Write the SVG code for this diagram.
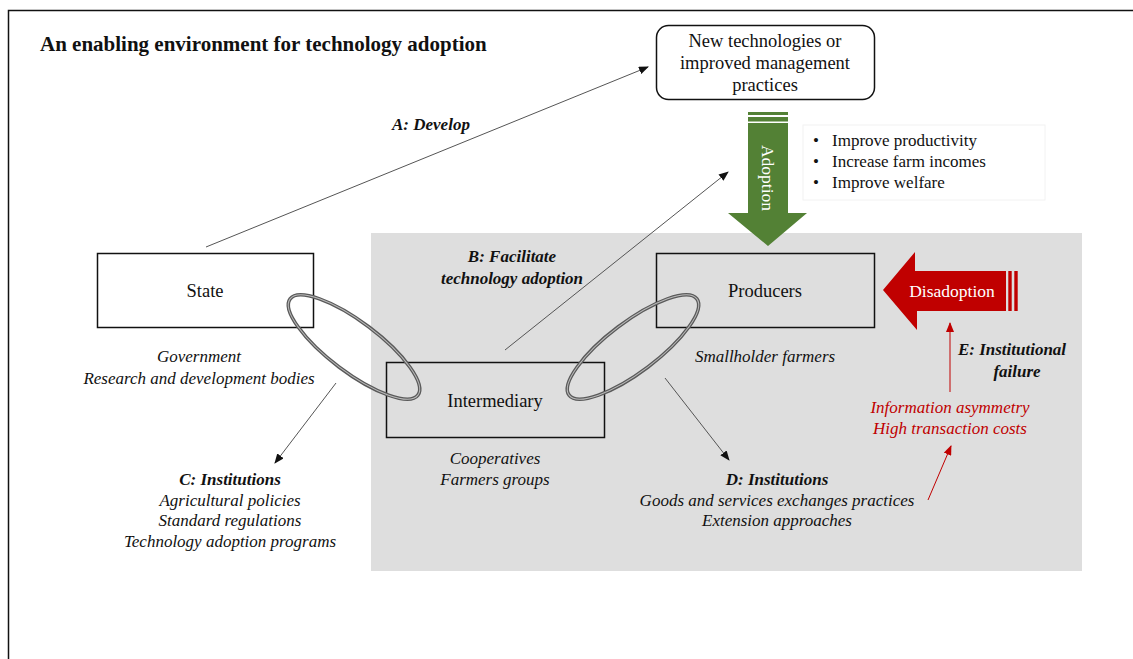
<svg xmlns="http://www.w3.org/2000/svg" width="1133" height="659" viewBox="0 0 1133 659">
  <defs>
    <style>
      text { font-family: "Liberation Serif", "Times New Roman", serif; font-size: 17px; fill: #111; }
      .c { text-anchor: middle; }
      .i { font-style: italic; }
      .bi { font-style: italic; font-weight: bold; }
      .red { fill: #c00000; }
      .lg { font-size: 18.5px; }
      .box { fill: none; stroke: #111; stroke-width: 1.5; }
      .link { fill: none; stroke: #555; stroke-width: 1; }
      .ring { fill: none; stroke: #5a5a5a; stroke-width: 3.6; }
      .ring-in { fill: none; stroke: #bbb; stroke-width: 1; }
    </style>
    <marker id="ah" markerWidth="10" markerHeight="8" refX="9" refY="4" orient="auto" markerUnits="userSpaceOnUse">
      <path d="M0,0 L10,4 L0,8 Z" fill="#111"/>
    </marker>
    <marker id="ahr" markerWidth="10" markerHeight="8" refX="9" refY="4" orient="auto" markerUnits="userSpaceOnUse">
      <path d="M0,0 L10,4 L0,8 Z" fill="#c00000"/>
    </marker>
  </defs>

  <rect x="0" y="0" width="1133" height="659" fill="#fff"/>
  <!-- frame -->
  <path d="M8.5,659 V10.5 H1133" fill="none" stroke="#111" stroke-width="1.5"/>

  <!-- shaded zone -->
  <rect x="371" y="233" width="711" height="338" fill="#dedede"/>

  <text x="40" y="51" style="font-size:21px;font-weight:bold">An enabling environment for technology adoption</text>

  <!-- connectors -->
  <g id="connectors">
    <line class="link" x1="206" y1="247" x2="648" y2="67" marker-end="url(#ah)"/>
    <line class="link" x1="505" y1="350" x2="728" y2="172" marker-end="url(#ah)"/>
    <line class="link" x1="336" y1="383" x2="275" y2="463" marker-end="url(#ah)"/>
    <line class="link" x1="665" y1="378" x2="729" y2="460" marker-end="url(#ah)"/>
    <line x1="950" y1="392" x2="950" y2="323" stroke="#c00000" stroke-width="1" marker-end="url(#ahr)"/>
    <line x1="928" y1="500" x2="951" y2="446" stroke="#c00000" stroke-width="1" marker-end="url(#ahr)"/>
  </g>

  <!-- new technologies -->
  <g id="new-tech">
    <rect class="box" x="656.5" y="25.5" width="218" height="74" rx="12"/>
    <text class="c lg" x="765" y="47">New technologies or</text>
    <text class="c lg" x="765" y="69">improved management</text>
    <text class="c lg" x="765" y="91">practices</text>
  </g>

  <!-- adoption arrow -->
  <g id="adoption">
    <rect x="748" y="112" width="40" height="3" fill="#538135"/>
    <rect x="748" y="117" width="40" height="4.5" fill="#538135"/>
    <path d="M748,123 H788 V213 H807 L768,246 L728,213 H748 Z" fill="#538135"/>
    <text class="c" transform="translate(762,178) rotate(90)" style="fill:#fff;font-size:17.5px">Adoption</text>
  </g>

  <!-- outcomes -->
  <g id="outcomes">
    <rect x="803" y="125" width="242" height="75" fill="none" stroke="#f2f2f2" stroke-width="1"/>
    <text x="813" y="146">•</text><text x="832" y="146">Improve productivity</text>
    <text x="813" y="167">•</text><text x="832" y="167">Increase farm incomes</text>
    <text x="813" y="188">•</text><text x="832" y="188">Improve welfare</text>
  </g>

  <!-- state -->
  <g id="state">
    <rect class="box" x="97.5" y="253.5" width="216" height="74"/>
    <text class="c lg" x="205" y="297">State</text>
    <text class="c i" x="199" y="362">Government</text>
    <text class="c i" x="199" y="384">Research and development bodies</text>
  </g>

  <!-- producers -->
  <g id="producers">
    <rect class="box" x="656.5" y="253.5" width="218" height="74"/>
    <text class="c lg" x="765" y="297">Producers</text>
    <text class="c i" x="765" y="362">Smallholder farmers</text>
  </g>

  <!-- intermediary -->
  <g id="intermediary">
    <rect class="box" x="386.5" y="362.5" width="218" height="75"/>
    <text class="c lg" x="495" y="407">Intermediary</text>
    <text class="c i" x="495" y="464">Cooperatives</text>
    <text class="c i" x="495" y="485">Farmers groups</text>
  </g>

  <!-- linking rings -->
  <g id="ring-state-intermediary">
    <ellipse class="ring" cx="354" cy="347" rx="80" ry="25" transform="rotate(37 354 347)"/>
    <ellipse class="ring-in" cx="354" cy="347" rx="80" ry="25" transform="rotate(37 354 347)"/>
  </g>
  <g id="ring-intermediary-producers">
    <ellipse class="ring" cx="633" cy="347" rx="80" ry="25" transform="rotate(-37 633 347)"/>
    <ellipse class="ring-in" cx="633" cy="347" rx="80" ry="25" transform="rotate(-37 633 347)"/>
  </g>

  <!-- disadoption arrow -->
  <g id="disadoption">
    <path d="M1006,271 V311 H917 V330 L883,290 L915,252 V271 Z" fill="#c00000"/>
    <rect x="1008.3" y="271" width="3.4" height="40" fill="#c00000"/>
    <rect x="1014.3" y="271" width="3.4" height="40" fill="#c00000"/>
    <text class="c" x="952" y="297" style="fill:#fff;font-size:17.5px">Disadoption</text>
  </g>

  <!-- labels -->
  <g id="label-a"><text class="bi" x="392" y="130">A: Develop</text></g>
  <g id="label-b">
    <text class="c bi" x="512" y="262">B: Facilitate</text>
    <text class="c bi" x="512" y="284">technology adoption</text>
  </g>
  <g id="label-c">
    <text class="c bi" x="230" y="485">C: Institutions</text>
    <text class="c i" x="230" y="506">Agricultural policies</text>
    <text class="c i" x="230" y="526">Standard regulations</text>
    <text class="c i" x="230" y="547">Technology adoption programs</text>
  </g>
  <g id="label-d">
    <text class="c bi" x="777" y="485">D: Institutions</text>
    <text class="c i" x="777" y="506">Goods and services exchanges practices</text>
    <text class="c i" x="777" y="526">Extension approaches</text>
  </g>
  <g id="label-e">
    <text class="c bi" x="1012" y="355">E: Institutional</text>
    <text class="c bi" x="1017" y="377">failure</text>
    <text class="c i red" x="950" y="413">Information asymmetry</text>
    <text class="c i red" x="950" y="434">High transaction costs</text>
  </g>
</svg>
